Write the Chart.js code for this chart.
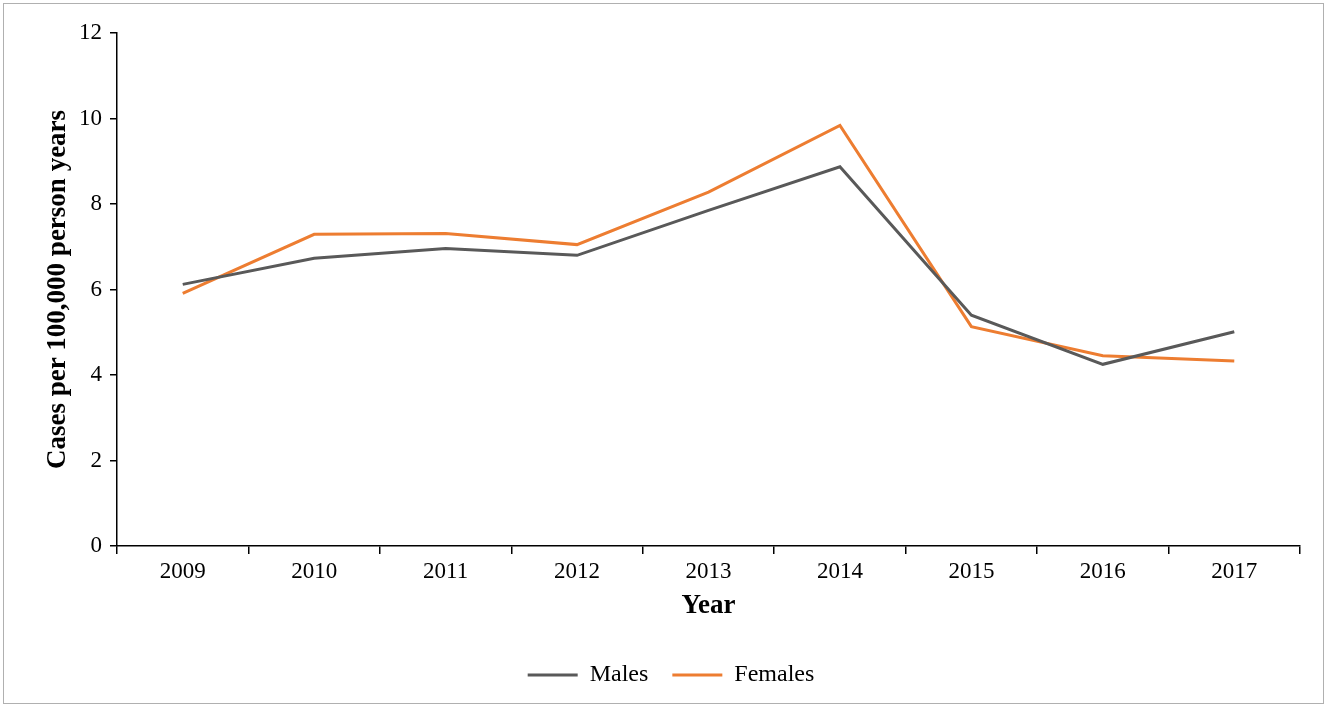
<!DOCTYPE html>
<html>
<head>
<meta charset="utf-8">
<script src="https://cdn.jsdelivr.net/npm/chart.js@4/dist/chart.umd.min.js"></script>
<style>
  html, body { margin: 0; padding: 0; background: #fff; }
  #frame { position: absolute; left: 3px; top: 3px; width: 1321px; height: 701px; border: 1px solid #b0b0b0; box-sizing: border-box; }
  #c { position: absolute; left: 0; top: 0; }
</style>
</head>
<body>
<div id="frame"></div>
<canvas id="c" width="1329" height="709"></canvas>
<script>
const years = ['2009', '2010', '2011', '2012', '2013', '2014', '2015', '2016', '2017'];
const males = [6.12, 6.73, 6.96, 6.80, 7.85, 8.87, 5.40, 4.25, 5.01];
const females = [5.91, 7.29, 7.31, 7.05, 8.28, 9.84, 5.13, 4.45, 4.33];
const yMin = 0, yMax = 12, yStep = 2;

const serif = "'Liberation Serif', 'Times New Roman', serif";
const maleColor = '#595959';
const femaleColor = '#ED7D31';

new Chart(document.getElementById('c'), {
  type: 'line',
  data: {
    labels: years,
    datasets: [
      { label: 'Males', data: males, borderColor: maleColor, backgroundColor: maleColor, borderWidth: 3, pointRadius: 0, tension: 0, fill: false },
      { label: 'Females', data: females, borderColor: femaleColor, backgroundColor: femaleColor, borderWidth: 3, pointRadius: 0, tension: 0, fill: false }
    ]
  },
  options: {
    responsive: false,
    animation: false,
    layout: { padding: { left: 42, right: 29, top: 33, bottom: 12 } },
    plugins: {
      tooltip: { enabled: false },
      legend: {
        position: 'bottom',
        labels: {
          font: { family: serif, size: 24 },
          color: '#000',
          boxWidth: 50,
          boxHeight: 3,
          padding: 24,
          generateLabels(chart) {
            return chart.data.datasets.map((ds, i) => ({
              text: ds.label,
              fillStyle: ds.borderColor,
              strokeStyle: ds.borderColor,
              lineWidth: 0,
              hidden: false,
              datasetIndex: i,
              fontColor: '#000'
            }));
          }
        }
      }
    },
    scales: {
      x: {
        offset: true,
        grid: { display: true, offset: true, drawOnChartArea: false, drawTicks: true, tickLength: 8, color: '#000', lineWidth: 1.5 },
        border: { display: true, color: '#000', width: 1.5 },
        ticks: { font: { family: serif, size: 23 }, color: '#000', padding: 4, maxRotation: 0 },
        title: { display: true, text: 'Year', font: { family: serif, size: 27, weight: 'bold' }, color: '#000', padding: { top: 4, bottom: 17 } },
        afterFit(scale) { scale.height = 93; }
      },
      y: {
        min: yMin, max: yMax,
        grid: { display: true, drawOnChartArea: false, drawTicks: true, tickLength: 7, color: '#000', lineWidth: 1.5 },
        border: { display: true, color: '#000', width: 1.5 },
        ticks: { stepSize: yStep, font: { family: serif, size: 23 }, color: '#000', padding: 8 },
        title: { display: true, text: 'Cases per 100,000 person years', font: { family: serif, size: 27, weight: 'bold' }, color: '#000', padding: { top: 0, bottom: 8 } },
        afterFit(scale) { scale.width = 117 - 42; }
      }
    }
  }
});
</script>
</body>
</html>
